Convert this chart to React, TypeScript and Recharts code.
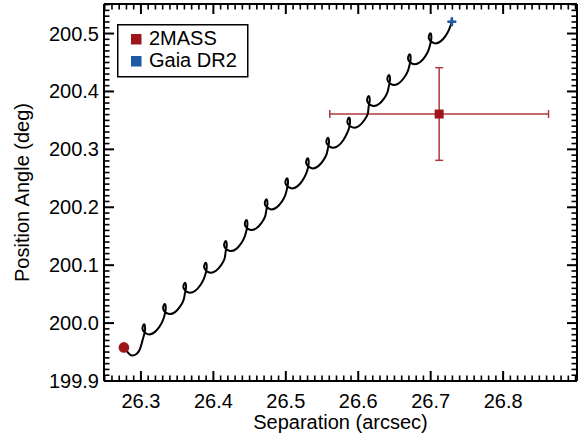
import React from 'react';
import { ComposedChart, Line, Scatter, XAxis, YAxis, ErrorBar, Legend, Label } from 'recharts';

const FONT = '"Liberation Sans", Arial, Helvetica, sans-serif';
const RED = '#9c161c';
const ERR = '#ad3a40';
const BLUE = '#1d5aa3';

// Predicted relative-motion track (separation in arcsec, position angle in deg)
const trackSep = [
  26.2765, 26.2827, 26.2876, 26.2938, 26.2986, 26.3017,
  26.3042, 26.3057, 26.3046, 26.3022, 26.3032, 26.3067, 26.3115, 26.3185, 26.3254, 26.3303,
  26.3327, 26.3342, 26.3331, 26.3307, 26.3317, 26.3352, 26.3400, 26.3470, 26.3539, 26.3588,
  26.3607, 26.3622, 26.3611, 26.3587, 26.3597, 26.3632, 26.3680, 26.3750, 26.3819, 26.3868,
  26.3893, 26.3908, 26.3897, 26.3873, 26.3883, 26.3918, 26.3966, 26.4036, 26.4105, 26.4154,
  26.4169, 26.4184, 26.4173, 26.4149, 26.4159, 26.4194, 26.4242, 26.4312, 26.4381, 26.4430,
  26.4455, 26.4470, 26.4459, 26.4435, 26.4445, 26.4480, 26.4528, 26.4598, 26.4667, 26.4716,
  26.4731, 26.4746, 26.4735, 26.4711, 26.4721, 26.4756, 26.4804, 26.4874, 26.4943, 26.4992,
  26.5015, 26.5030, 26.5019, 26.4995, 26.5005, 26.5040, 26.5088, 26.5158, 26.5227, 26.5276,
  26.5301, 26.5316, 26.5305, 26.5281, 26.5291, 26.5326, 26.5374, 26.5444, 26.5513, 26.5562,
  26.5581, 26.5596, 26.5585, 26.5561, 26.5571, 26.5606, 26.5654, 26.5724, 26.5793, 26.5842,
  26.5871, 26.5886, 26.5875, 26.5851, 26.5861, 26.5896, 26.5944, 26.6014, 26.6083, 26.6132,
  26.6143, 26.6158, 26.6147, 26.6123, 26.6133, 26.6168, 26.6216, 26.6286, 26.6355, 26.6404,
  26.6423, 26.6438, 26.6427, 26.6403, 26.6413, 26.6448, 26.6496, 26.6566, 26.6635, 26.6684,
  26.6708, 26.6723, 26.6712, 26.6688, 26.6698, 26.6733, 26.6781, 26.6851, 26.6920, 26.6969,
  26.6994, 26.7009, 26.6998, 26.6974, 26.6984, 26.7019, 26.7067, 26.7137, 26.7206, 26.7255,
  26.7292,
];
const trackPA = [
  199.9580, 199.9482, 199.9439, 199.9465, 199.9551, 199.9680,
  199.9791, 199.9891, 199.9977, 199.9925, 199.9865, 199.9825, 199.9804, 199.9839, 199.9934, 200.0046,
  200.0142, 200.0242, 200.0328, 200.0276, 200.0216, 200.0176, 200.0155, 200.0190, 200.0285, 200.0397,
  200.0510, 200.0610, 200.0696, 200.0644, 200.0584, 200.0544, 200.0523, 200.0558, 200.0653, 200.0765,
  200.0855, 200.0955, 200.1041, 200.0989, 200.0929, 200.0889, 200.0868, 200.0903, 200.0998, 200.1110,
  200.1230, 200.1330, 200.1416, 200.1364, 200.1304, 200.1264, 200.1243, 200.1278, 200.1373, 200.1485,
  200.1593, 200.1693, 200.1779, 200.1727, 200.1667, 200.1627, 200.1606, 200.1641, 200.1736, 200.1848,
  200.1950, 200.2050, 200.2136, 200.2084, 200.2024, 200.1984, 200.1963, 200.1998, 200.2093, 200.2205,
  200.2313, 200.2413, 200.2499, 200.2447, 200.2387, 200.2347, 200.2326, 200.2361, 200.2456, 200.2568,
  200.2658, 200.2758, 200.2844, 200.2792, 200.2732, 200.2692, 200.2671, 200.2706, 200.2801, 200.2913,
  200.3014, 200.3114, 200.3200, 200.3148, 200.3088, 200.3048, 200.3027, 200.3062, 200.3157, 200.3269,
  200.3360, 200.3460, 200.3546, 200.3494, 200.3434, 200.3394, 200.3373, 200.3408, 200.3503, 200.3615,
  200.3734, 200.3834, 200.3920, 200.3868, 200.3808, 200.3768, 200.3747, 200.3782, 200.3877, 200.3989,
  200.4097, 200.4197, 200.4283, 200.4231, 200.4171, 200.4131, 200.4110, 200.4145, 200.4240, 200.4352,
  200.4455, 200.4555, 200.4641, 200.4589, 200.4529, 200.4489, 200.4468, 200.4503, 200.4598, 200.4710,
  200.4817, 200.4917, 200.5003, 200.4951, 200.4891, 200.4851, 200.4830, 200.4865, 200.4960, 200.5072,
  200.5204,
];

const twoMassSep = [26.7117];
const twoMassPA = [200.361];
const twoMassSepErr = [0.151];
const twoMassPAErr = [0.08];

const gaiaSep = [26.7292];
const gaiaPA = [200.5204];

const startSep = [26.2765];
const startPA = [199.958];

const xDomain: [number, number] = [26.249, 26.902];
const yDomain: [number, number] = [199.9, 200.551];

const xMajorTicks = [26.3, 26.4, 26.5, 26.6, 26.7, 26.8];
const yMajorTicks = [199.9, 200.0, 200.1, 200.2, 200.3, 200.4, 200.5];

const xMinorTicks = Array.from({ length: 66 }, (_, i) => Math.round((26.25 + i * 0.01) * 100) / 100);
const yMinorTicks = Array.from({ length: 66 }, (_, i) => Math.round((199.9 + i * 0.01) * 100) / 100);

const track = trackSep.map((s, i) => ({ sep: s, pa: trackPA[i] }));
const twoMass = twoMassSep.map((s, i) => ({ sep: s, pa: twoMassPA[i], ex: twoMassSepErr[i], ey: twoMassPAErr[i] }));
const gaia = gaiaSep.map((s, i) => ({ sep: s, pa: gaiaPA[i] }));
const start = startSep.map((s, i) => ({ sep: s, pa: startPA[i] }));

const isMajorX = (v: number) => xMajorTicks.some((t) => Math.abs(t - v) < 1e-6);
const isMajorY = (v: number) => yMajorTicks.some((t) => Math.abs(t - v) < 1e-6);

const MAJ = 10;
const MIN = 5.5;
const WMAJ = 2;
const WMIN = 1.6;

// vertical tick rectangle starting at (x, y) going dir*len
const VMark = ({ x, y, dir, major }: any) => {
  const len = major ? MAJ : MIN;
  const w = major ? WMAJ : WMIN;
  const y0 = dir > 0 ? y : y - len;
  return <rect x={x - w / 2} y={y0} width={w} height={len} fill="#000" />;
};
const HMark = ({ x, y, dir, major }: any) => {
  const len = major ? MAJ : MIN;
  const w = major ? WMAJ : WMIN;
  const x0 = dir > 0 ? x : x - len;
  return <rect x={x0} y={y - w / 2} width={len} height={w} fill="#000" />;
};

const BottomTick = (props: any) => {
  const { x, y, payload } = props;
  const major = isMajorX(payload.value);
  return (
    <g>
      <VMark x={x} y={y} dir={-1} major={major} />
      {major && (
        <text x={x} y={y + 27} textAnchor="middle" fontSize={20} fontFamily={FONT} fill="#000">
          {payload.value.toFixed(1)}
        </text>
      )}
    </g>
  );
};
const TopTick = (props: any) => {
  const { x, y, payload } = props;
  return <VMark x={x} y={y} dir={1} major={isMajorX(payload.value)} />;
};
const LeftTick = (props: any) => {
  const { x, y, payload } = props;
  const major = isMajorY(payload.value);
  return (
    <g>
      <HMark x={x} y={y} dir={1} major={major} />
      {major && (
        <text x={x - 5} y={y + 7} textAnchor="end" fontSize={20} fontFamily={FONT} fill="#000">
          {payload.value.toFixed(1)}
        </text>
      )}
    </g>
  );
};
const RightTick = (props: any) => {
  const { x, y, payload } = props;
  return <HMark x={x} y={y} dir={-1} major={isMajorY(payload.value)} />;
};

const LegendBox = () => (
  <svg width={132} height={54} style={{ display: 'block' }}>
    <rect x={0.75} y={0.75} width={130} height={52} fill="#fff" stroke="#000" strokeWidth={1.5} />
    <rect x={14} y={10} width={10.5} height={10.5} fill={RED} />
    <text x={32} y={21} fontSize={20} fontFamily={FONT} fill="#000">2MASS</text>
    <rect x={14} y={32} width={10.5} height={10.5} fill={BLUE} />
    <text x={32} y={42.5} fontSize={20} fontFamily={FONT} fill="#000">Gaia DR2</text>
  </svg>
);

const SquareShape = (props: any) => {
  const { cx, cy } = props;
  return <rect x={cx - 4.5} y={cy - 4.5} width={9} height={9} fill={RED} />;
};
const CircleShape = (props: any) => {
  const { cx, cy } = props;
  return <circle cx={cx} cy={cy} r={5.3} fill={RED} />;
};
const PlusShape = (props: any) => {
  const { cx, cy } = props;
  return (
    <g stroke={BLUE} strokeWidth={2.6}>
      <line x1={cx - 4.5} y1={cy} x2={cx + 4.5} y2={cy} />
      <line x1={cx} y1={cy - 4.5} x2={cx} y2={cy + 4.5} />
    </g>
  );
};

export default function App() {
  return (
    <div style={{ position: 'absolute', left: 0, top: 0 }}>
      <ComposedChart
        width={584}
        height={438}
        data={track}
        margin={{ top: 3, right: 6, bottom: 0, left: 0 }}
      >
        <XAxis
          xAxisId={0}
          dataKey="sep"
          type="number"
          orientation="bottom"
          domain={xDomain}
          allowDataOverflow
          ticks={xMinorTicks}
          interval={0}
          tickSize={0}
          tickMargin={0}
          tickLine={false}
          tick={<BottomTick />}
          height={57}
          axisLine={{ stroke: '#000', strokeWidth: 2 }}
        >
          <Label
            value="Separation (arcsec)"
            position="insideBottom"
            offset={9}
            style={{ fontSize: 20, fontFamily: FONT, fill: '#000' }}
          />
        </XAxis>
        <XAxis
          xAxisId="top"
          dataKey="sep"
          type="number"
          orientation="top"
          domain={xDomain}
          allowDataOverflow
          ticks={xMinorTicks}
          interval={0}
          tickSize={0}
          tickMargin={0}
          tickLine={false}
          tick={<TopTick />}
          height={1}
          axisLine={{ stroke: '#000', strokeWidth: 2 }}
        />
        <YAxis
          yAxisId={0}
          dataKey="pa"
          type="number"
          orientation="left"
          domain={yDomain}
          allowDataOverflow
          ticks={yMinorTicks}
          interval={0}
          tickSize={0}
          tickMargin={0}
          tickLine={false}
          tick={<LeftTick />}
          width={104}
          axisLine={{ stroke: '#000', strokeWidth: 2 }}
        >
          <Label
            value="Position Angle (deg)"
            position="insideLeft"
            angle={-90}
            offset={22}
            style={{ fontSize: 20, fontFamily: FONT, fill: '#000', textAnchor: 'middle' }}
          />
        </YAxis>
        <YAxis
          yAxisId="right"
          dataKey="pa"
          type="number"
          orientation="right"
          domain={yDomain}
          allowDataOverflow
          ticks={yMinorTicks}
          interval={0}
          tickSize={0}
          tickMargin={0}
          tickLine={false}
          tick={<RightTick />}
          width={1}
          axisLine={{ stroke: '#000', strokeWidth: 2 }}
        />
        <Legend
          content={<LegendBox />}
          layout="horizontal"
          verticalAlign="middle"
          align="center"
          wrapperStyle={{ left: 117, top: 24, width: 132, height: 54 }}
        />
        <Scatter data={twoMass} dataKey="pa" shape={<SquareShape />} isAnimationActive={false}>
          <ErrorBar dataKey="ex" direction="x" width={4} stroke={ERR} strokeWidth={1.5} isAnimationActive={false} />
          <ErrorBar dataKey="ey" direction="y" width={4} stroke={ERR} strokeWidth={1.5} isAnimationActive={false} />
        </Scatter>
        <Line
          dataKey="pa"
          type="natural"
          stroke="#000"
          strokeWidth={2}
          dot={false}
          activeDot={false}
          isAnimationActive={false}
        />
        <Scatter data={start} dataKey="pa" shape={<CircleShape />} isAnimationActive={false} />
        <Scatter data={gaia} dataKey="pa" shape={<PlusShape />} isAnimationActive={false} />
      </ComposedChart>
    </div>
  );
}
